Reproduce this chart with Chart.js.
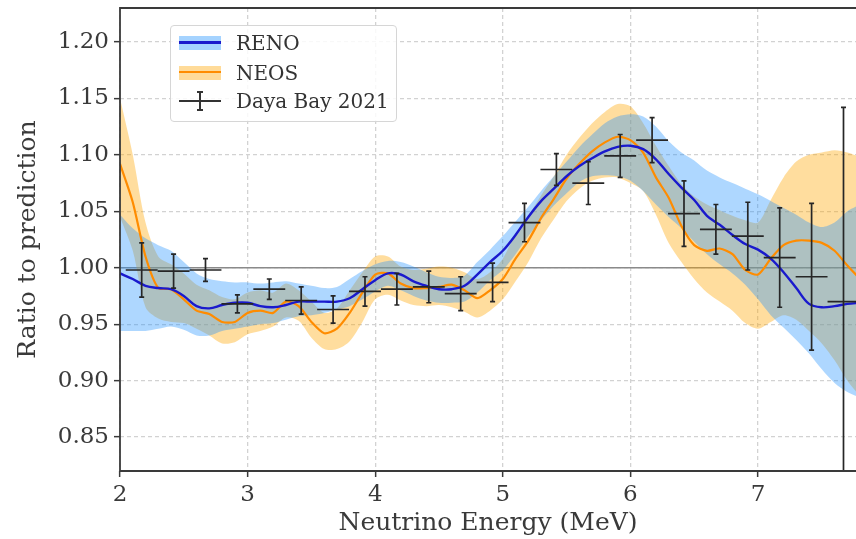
<!DOCTYPE html>
<html>
<head>
<meta charset="utf-8">
<script src="https://cdn.jsdelivr.net/npm/chart.js@4.4.1/dist/chart.umd.min.js"></script>
<style>
  html, body { margin: 0; padding: 0; background: #fff; }
  #wrap { position: relative; width: 856px; height: 539px; }
  #legend {
    position: absolute; left: 170px; top: 25px; width: 227px; height: 97px;
    box-sizing: border-box; border: 1px solid #d6d6d6; border-radius: 4px;
    background: rgba(255, 255, 255, 0.85);
    font-family: 'DejaVu Serif', serif; font-size: 20px; color: #333;
  }
  .entry { position: absolute; left: 0; width: 100%; height: 24px; }
  .entry .label { position: absolute; left: 65px; top: 0; line-height: 24px; white-space: nowrap; }
  .band { position: absolute; left: 8px; top: 5px; width: 42px; height: 14px; }
  .band .mid { position: absolute; left: 0; top: 5px; width: 42px; height: 3px; }
  .ebar .h { position: absolute; left: 8px; top: 11px; width: 42px; height: 2px; background: #333; }
  .ebar .v { position: absolute; left: 28px; top: 2px; width: 2px; height: 20px; background: #333; }
  .ebar .c { position: absolute; left: 26px; width: 6px; height: 2px; background: #333; }
</style>
</head>
<body>
<div id="wrap">
  <canvas id="ratioChart" width="856" height="539"></canvas>
  <div id="legend">
    <div class="entry" style="top:5px">
      <div class="band" style="background:rgba(30,144,255,0.4)"><div class="mid" style="background:#1a1acd"></div></div>
      <div class="label">RENO</div>
    </div>
    <div class="entry" style="top:35px">
      <div class="band" style="background:rgba(255,165,0,0.4)"><div class="mid" style="background:#ff8c00;height:2px"></div></div>
      <div class="label">NEOS</div>
    </div>
    <div class="entry ebar" style="top:63px">
      <div class="h"></div><div class="v"></div>
      <div class="c" style="top:2px"></div><div class="c" style="top:20px"></div>
      <div class="label">Daya Bay 2021</div>
    </div>
  </div>
</div>
<script>
// neutrino energy grid (MeV) for the unfolded spectra
const energy = [2.0, 2.1, 2.2, 2.3, 2.4, 2.5, 2.6, 2.7, 2.8, 2.9,
  3.0, 3.1, 3.2, 3.3, 3.4, 3.5, 3.6, 3.7, 3.8, 3.9,
  4.0, 4.1, 4.2, 4.3, 4.4, 4.5, 4.6, 4.7, 4.8, 4.9,
  5.0, 5.1, 5.2, 5.3, 5.4, 5.5, 5.6, 5.7, 5.8, 5.9,
  6.0, 6.1, 6.2, 6.3, 6.4, 6.5, 6.6, 6.7, 6.8, 6.9,
  7.0, 7.1, 7.2, 7.3, 7.4, 7.5, 7.6, 7.7, 7.8];

// RENO ratio and 1 sigma band
const renoRatio = [0.995, 0.990, 0.984, 0.982, 0.981, 0.975, 0.966, 0.964, 0.967, 0.969,
  0.969, 0.966, 0.965, 0.967, 0.970, 0.970, 0.970, 0.970, 0.973, 0.981,
  0.989, 0.995, 0.994, 0.988, 0.984, 0.981, 0.981, 0.984, 0.994, 1.005,
  1.015, 1.029, 1.045, 1.059, 1.070, 1.081, 1.090, 1.097, 1.103, 1.107,
  1.108, 1.105, 1.096, 1.083, 1.071, 1.060, 1.046, 1.038, 1.029, 1.021,
  1.016, 1.008, 0.996, 0.982, 0.968, 0.965, 0.966, 0.968, 0.969];
const renoUpper = [1.047, 1.035, 1.026, 1.020, 1.015, 1.005, 0.995, 0.990, 0.988, 0.987,
  0.987, 0.986, 0.987, 0.988, 0.986, 0.984, 0.982, 0.983, 0.990, 0.997,
  1.003, 1.006, 1.005, 1.001, 0.996, 0.992, 0.991, 0.993, 1.005, 1.016,
  1.028, 1.041, 1.054, 1.068, 1.081, 1.094, 1.107, 1.118, 1.128, 1.134,
  1.136, 1.134, 1.125, 1.112, 1.102, 1.095, 1.086, 1.080, 1.075, 1.070,
  1.065, 1.059, 1.053, 1.047, 1.040, 1.036, 1.040, 1.050, 1.056];
const renoLower = [0.944, 0.944, 0.944, 0.946, 0.948, 0.945, 0.940, 0.940, 0.944, 0.946,
  0.948, 0.950, 0.951, 0.954, 0.957, 0.958, 0.960, 0.963, 0.966, 0.972,
  0.979, 0.984, 0.980, 0.975, 0.971, 0.969, 0.969, 0.970, 0.978, 0.989,
  0.998, 1.012, 1.028, 1.042, 1.055, 1.066, 1.076, 1.081, 1.082, 1.081,
  1.077, 1.068, 1.056, 1.045, 1.035, 1.023, 1.012, 1.003, 0.995, 0.985,
  0.972, 0.958, 0.947, 0.936, 0.924, 0.910, 0.898, 0.890, 0.885];

// NEOS ratio and 1 sigma band
const neosRatio = [1.092, 1.058, 1.010, 0.982, 0.981, 0.972, 0.962, 0.959, 0.952, 0.952,
  0.960, 0.962, 0.960, 0.970, 0.966, 0.952, 0.942, 0.946, 0.960, 0.978,
  0.994, 0.995, 0.986, 0.982, 0.982, 0.983, 0.985, 0.980, 0.973, 0.980,
  0.990, 1.008, 1.024, 1.044, 1.061, 1.079, 1.092, 1.103, 1.111, 1.116,
  1.113, 1.102, 1.080, 1.062, 1.037, 1.020, 1.015, 1.017, 1.012, 0.998,
  0.994, 1.008, 1.020, 1.024, 1.024, 1.022, 1.015, 1.002, 0.990];
const neosUpper = [1.150, 1.100, 1.040, 1.010, 1.003, 0.995, 0.985, 0.980, 0.974, 0.972,
  0.978, 0.980, 0.978, 0.986, 0.980, 0.970, 0.960, 0.964, 0.980, 0.996,
  1.010, 1.010, 1.001, 0.998, 0.999, 1.001, 1.000, 0.996, 0.990, 0.996,
  1.008, 1.030, 1.046, 1.064, 1.081, 1.100, 1.115, 1.128, 1.138, 1.145,
  1.143, 1.128, 1.108, 1.090, 1.074, 1.063, 1.056, 1.051, 1.046, 1.042,
  1.040, 1.060, 1.080, 1.094, 1.100, 1.102, 1.104, 1.102, 1.098];
const neosLower = [1.045, 1.015, 0.965, 0.955, 0.952, 0.951, 0.946, 0.940, 0.933, 0.934,
  0.941, 0.944, 0.948, 0.956, 0.953, 0.938, 0.928, 0.928, 0.935, 0.952,
  0.972, 0.976, 0.971, 0.967, 0.966, 0.967, 0.965, 0.961, 0.956, 0.962,
  0.972, 0.988, 1.005, 1.026, 1.043, 1.059, 1.070, 1.077, 1.080, 1.080,
  1.075, 1.068, 1.047, 1.022, 1.005, 0.990, 0.978, 0.970, 0.962, 0.951,
  0.946, 0.952, 0.958, 0.954, 0.944, 0.933, 0.918, 0.900, 0.886];

// Daya Bay 2021 measured points
const dybEnergy = [2.17, 2.42, 2.67, 2.92, 3.17, 3.42, 3.67, 3.92, 4.17, 4.42, 4.67, 4.92,
  5.17, 5.42, 5.67, 5.92, 6.17, 6.42, 6.67, 6.92, 7.17, 7.42, 7.67];
const dybRatio = [0.998, 0.997, 0.998, 0.968, 0.981, 0.971, 0.963, 0.979, 0.981, 0.983, 0.977, 0.987,
  1.040, 1.087, 1.075, 1.099, 1.113, 1.048, 1.034, 1.028, 1.009, 0.992, 0.970];
const dybError = [0.024, 0.015, 0.010, 0.008, 0.009, 0.012, 0.012, 0.013, 0.014, 0.014, 0.015, 0.017,
  0.017, 0.014, 0.019, 0.019, 0.020, 0.029, 0.022, 0.030, 0.044, 0.065, 0.172];
const dybHalfBin = 0.125;

const xTicks = [2, 3, 4, 5, 6, 7];
const yTicks = [0.85, 0.90, 0.95, 1.00, 1.05, 1.10, 1.15, 1.20];
const referenceRatio = 1.0;

const toPoints = (xs, ys) => xs.map((x, i) => ({x: x, y: ys[i]}));

const FONT = "'DejaVu Serif', serif";
Chart.defaults.font.family = FONT;
Chart.defaults.color = '#333';

// axis frame, 1.00 reference line and Daya Bay error bars
const overlay = {
  id: 'overlay',
  beforeDatasetsDraw(chart) {
    const {ctx, chartArea: a, scales: {y}} = chart;
    const py = y.getPixelForValue(referenceRatio);
    ctx.save();
    ctx.strokeStyle = '#8a8a8a';
    ctx.lineWidth = 1.6;
    ctx.beginPath();
    ctx.moveTo(a.left, py);
    ctx.lineTo(a.right, py);
    ctx.stroke();
    ctx.restore();
  },
  afterDatasetsDraw(chart) {
    const {ctx, chartArea: a, scales: {x, y}} = chart;
    ctx.save();
    ctx.beginPath();
    ctx.rect(a.left, a.top, a.right - a.left, a.bottom - a.top);
    ctx.clip();
    ctx.strokeStyle = '#262626';
    dybEnergy.forEach((e, i) => {
      const cx = x.getPixelForValue(e);
      const cy = y.getPixelForValue(dybRatio[i]);
      const top = y.getPixelForValue(dybRatio[i] + dybError[i]);
      const bot = y.getPixelForValue(dybRatio[i] - dybError[i]);
      ctx.lineWidth = 1.7;
      ctx.beginPath();
      ctx.moveTo(x.getPixelForValue(e - dybHalfBin), cy);
      ctx.lineTo(x.getPixelForValue(e + dybHalfBin), cy);
      ctx.moveTo(cx, top);
      ctx.lineTo(cx, bot);
      ctx.moveTo(cx - 2.5, top);
      ctx.lineTo(cx + 2.5, top);
      ctx.moveTo(cx - 2.5, bot);
      ctx.lineTo(cx + 2.5, bot);
      ctx.stroke();
    });
    ctx.restore();

    ctx.save();
    ctx.strokeStyle = '#3a3a3a';
    ctx.lineWidth = 1.8;
    ctx.beginPath();
    ctx.moveTo(a.right + 2, a.top);
    ctx.lineTo(a.left, a.top);
    ctx.lineTo(a.left, a.bottom);
    ctx.lineTo(a.right + 2, a.bottom);
    ctx.stroke();
    ctx.restore();
  }
};

const lineStyle = {pointRadius: 0, borderWidth: 0, fill: false, tension: 0.3};

new Chart(document.getElementById('ratioChart'), {
  type: 'line',
  data: {
    datasets: [
      {label: 'RENO', data: toPoints(energy, renoRatio), borderColor: '#1a1acd', borderWidth: 2.4,
        pointRadius: 0, fill: false, tension: 0.35, order: 0},
      {label: 'NEOS', data: toPoints(energy, neosRatio), borderColor: '#ff8c00', borderWidth: 2.2,
        pointRadius: 0, fill: false, tension: 0.25, order: 1},
      {label: 'RENO low', data: toPoints(energy, renoLower), ...lineStyle, order: 2},
      {label: 'RENO band', data: toPoints(energy, renoUpper), ...lineStyle, fill: '-1',
        backgroundColor: 'rgba(30,144,255,0.36)', order: 3},
      {label: 'NEOS low', data: toPoints(energy, neosLower), ...lineStyle, order: 4},
      {label: 'NEOS band', data: toPoints(energy, neosUpper), ...lineStyle, fill: '-1',
        backgroundColor: 'rgba(255,165,0,0.38)', order: 5}
    ]
  },
  options: {
    responsive: false,
    animation: false,
    devicePixelRatio: 1,
    layout: {padding: {top: 8, right: 0, bottom: 0, left: 0}},
    plugins: {legend: {display: false}, tooltip: {enabled: false}},
    scales: {
      x: {
        type: 'linear', min: 2, max: 7.768,
        afterBuildTicks: s => { s.ticks = xTicks.map(v => ({value: v})); },
        afterFit: s => { s.height = 68; s.paddingLeft = 0; s.paddingRight = 0; },
        ticks: {font: {size: 23}, color: '#3a3a3a', padding: 4, maxRotation: 0,
          callback: v => String(v)},
        grid: {color: '#d2d2d2', lineWidth: 1.3, borderDash: [4, 3], tickLength: 6,
          tickColor: '#3a3a3a', tickWidth: 1.5, tickBorderDash: []},
        border: {display: false, dash: [4, 3]},
        title: {display: true, text: 'Neutrino Energy (MeV)', font: {size: 25}, color: '#3a3a3a',
          padding: {top: 0, bottom: 1}}
      },
      y: {
        type: 'linear', min: 0.82, max: 1.23,
        afterBuildTicks: s => { s.ticks = yTicks.map(v => ({value: v})); },
        afterFit: s => { s.width = 120; s.paddingTop = 0; s.paddingBottom = 0; },
        ticks: {font: {size: 23}, color: '#3a3a3a', padding: 5,
          callback: v => v.toFixed(2)},
        grid: {color: '#d2d2d2', lineWidth: 1.3, borderDash: [4, 3], tickLength: 6,
          tickColor: '#3a3a3a', tickWidth: 1.5, tickBorderDash: []},
        border: {display: false, dash: [4, 3]},
        title: {display: true, text: 'Ratio to prediction', font: {size: 25}, color: '#3a3a3a',
          padding: {top: 13, bottom: 0}}
      }
    }
  },
  plugins: [overlay]
});
</script>
</body>
</html>
